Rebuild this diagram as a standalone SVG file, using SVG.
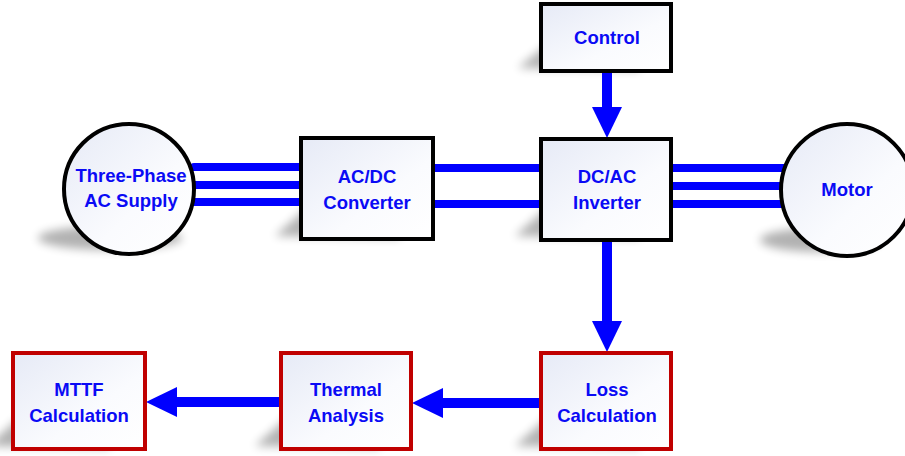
<svg xmlns="http://www.w3.org/2000/svg" width="905" height="456" viewBox="0 0 905 456">
  <defs>
    <linearGradient id="fillGrad" x1="0" y1="0" x2="1" y2="1">
      <stop offset="0" stop-color="#e6eaf6"/>
      <stop offset="0.6" stop-color="#fafbfe"/>
      <stop offset="1" stop-color="#ffffff"/>
    </linearGradient>
    <filter id="softShadow" x="-50%" y="-50%" width="200%" height="200%">
      <feGaussianBlur stdDeviation="5"/>
    </filter>
    <!-- arrowhead: base sits at the end of the line, tip 30px beyond -->
    <marker id="arrowHead" viewBox="0 0 30 30" refX="0" refY="15" markerWidth="30" markerHeight="30" markerUnits="userSpaceOnUse" orient="auto" overflow="visible">
      <path d="M-1,0 L30,15 L-1,30 Z" fill="#0000ff"/>
    </marker>
    <style>
      .box { fill: url(#fillGrad); stroke: #000; stroke-width: 4; }
      .redbox { fill: url(#fillGrad); stroke: #c00000; stroke-width: 4; }
      .source { fill: url(#fillGrad); stroke: #000; stroke-width: 4; }
      .shadow { fill: #000; opacity: 0.3; filter: url(#softShadow); }
      .wire { stroke: #0000ff; stroke-width: 8; stroke-linecap: round; fill: none; }
      .flow { stroke: #0000ff; stroke-width: 10; stroke-linecap: round; fill: none; marker-end: url(#arrowHead); }
      .label { font-family: "Liberation Sans", Arial, sans-serif; font-weight: bold; font-size: 18.5px; fill: #0a0af5; text-anchor: middle; }
    </style>
  </defs>

  <!-- cast shadows -->
  <g id="shadows">
    <ellipse class="shadow" cx="110" cy="238" rx="72" ry="12"/>
    <ellipse class="shadow" cx="820" cy="240" rx="60" ry="12"/>
    <polygon class="shadow" points="310,205 400,205 400,238 275,236"/>
    <polygon class="shadow" points="550,205 640,205 640,238 515,236"/>
    <polygon class="shadow" points="550,42 640,42 640,70 518,68"/>
    <polygon class="shadow" points="22,415 110,415 110,448 -12,446"/>
    <polygon class="shadow" points="290,415 380,415 380,448 255,446"/>
    <polygon class="shadow" points="550,415 640,415 640,448 515,446"/>
  </g>

  <!-- connectors -->
  <g id="connectors">
    <line class="wire" x1="194" y1="167" x2="301" y2="167"/>
    <line class="wire" x1="194" y1="185" x2="301" y2="185"/>
    <line class="wire" x1="194" y1="202" x2="301" y2="202"/>
    <line class="wire" x1="435" y1="168" x2="541" y2="168"/>
    <line class="wire" x1="435" y1="204" x2="541" y2="204"/>
    <line class="wire" x1="671" y1="168" x2="784" y2="168"/>
    <line class="wire" x1="671" y1="186" x2="784" y2="186"/>
    <line class="wire" x1="671" y1="204" x2="784" y2="204"/>
    <line class="flow" x1="607" y1="70" x2="607" y2="108"/>
    <line class="flow" x1="607" y1="242" x2="607" y2="322"/>
    <line class="flow" x1="540" y1="403" x2="442" y2="403"/>
    <line class="flow" x1="280" y1="402" x2="176" y2="402"/>
  </g>

  <g id="ac-supply">
    <circle class="source" cx="129" cy="189" r="65"/>
    <text class="label" x="131" y="182">Three-Phase</text>
    <text class="label" x="131" y="207">AC Supply</text>
  </g>

  <g id="acdc-converter">
    <rect class="box" x="301" y="138" width="132" height="101"/>
    <text class="label" x="367" y="183">AC/DC</text>
    <text class="label" x="367" y="209">Converter</text>
  </g>

  <g id="control">
    <rect class="box" x="541" y="4" width="130" height="67"/>
    <text class="label" x="607" y="44">Control</text>
  </g>

  <g id="dcac-inverter">
    <rect class="box" x="541" y="139" width="130" height="101"/>
    <text class="label" x="607" y="183">DC/AC</text>
    <text class="label" x="607" y="209">Inverter</text>
  </g>

  <g id="motor">
    <circle class="source" cx="847" cy="190" r="66"/>
    <text class="label" x="847" y="196">Motor</text>
  </g>

  <g id="loss-calculation">
    <rect class="redbox" x="541" y="353" width="130" height="96"/>
    <text class="label" x="607" y="396">Loss</text>
    <text class="label" x="607" y="422">Calculation</text>
  </g>

  <g id="thermal-analysis">
    <rect class="redbox" x="281" y="353" width="130" height="96"/>
    <text class="label" x="346" y="396">Thermal</text>
    <text class="label" x="346" y="422">Analysis</text>
  </g>

  <g id="mttf-calculation">
    <rect class="redbox" x="13" y="353" width="132" height="96"/>
    <text class="label" x="79" y="396">MTTF</text>
    <text class="label" x="79" y="422">Calculation</text>
  </g>
</svg>
